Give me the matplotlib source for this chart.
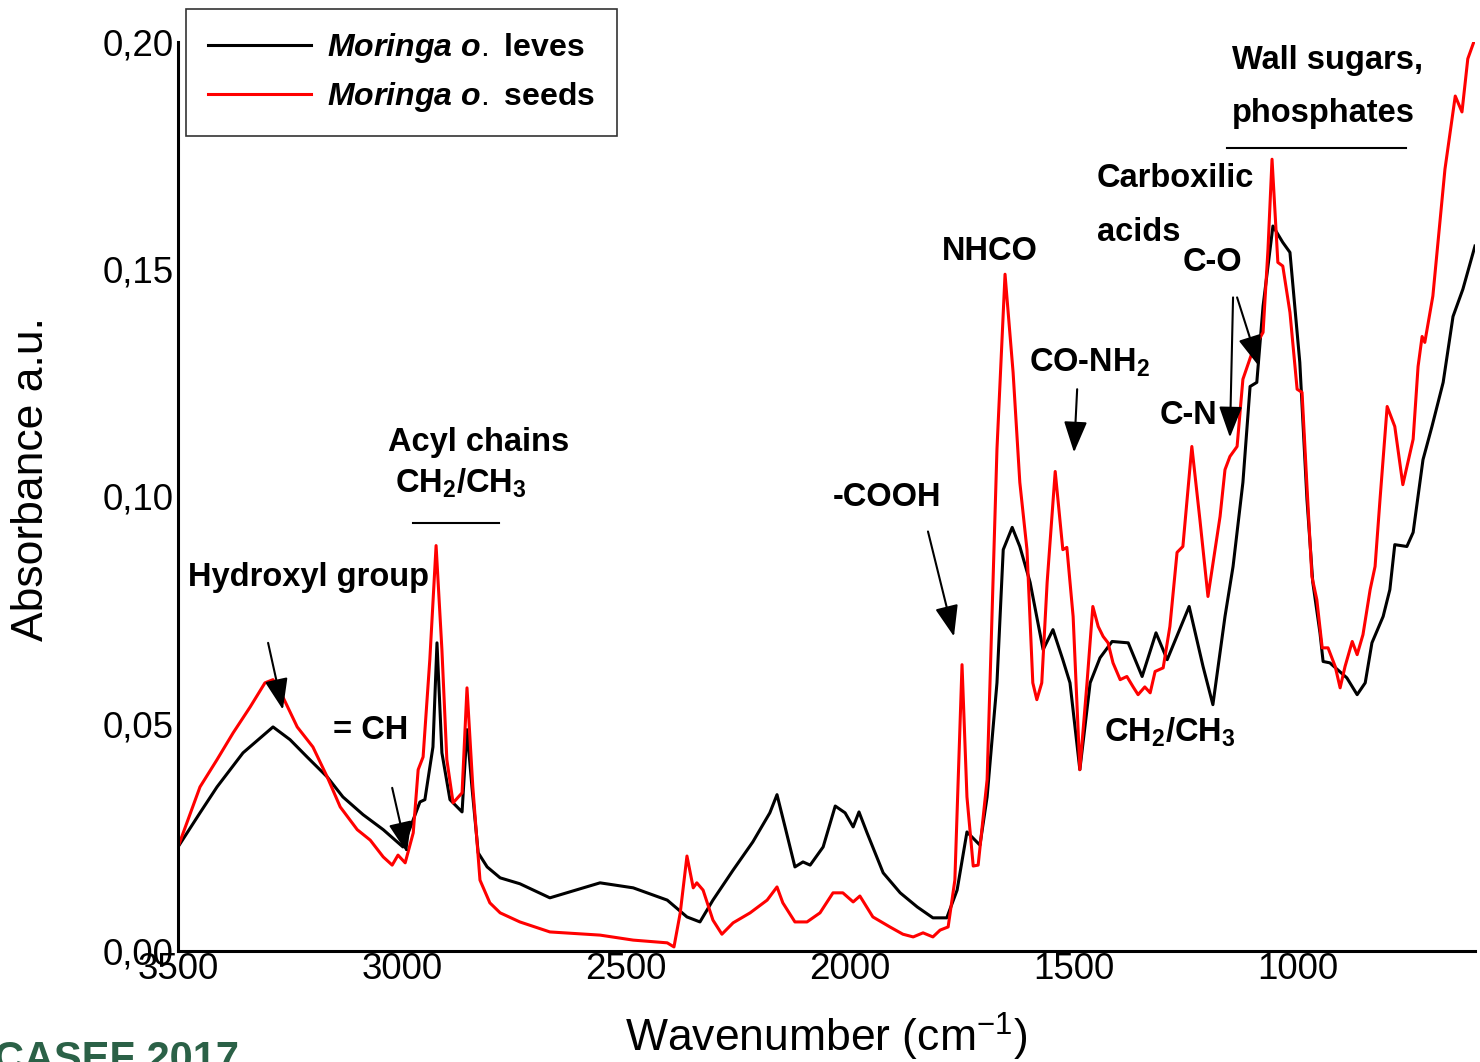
import matplotlib
matplotlib.use('Agg')
import matplotlib.pyplot as plt
from matplotlib.ticker import FuncFormatter

plt.rcParams['font.family'] = ['Liberation Sans', 'DejaVu Sans']
plt.rcParams['mathtext.fontset'] = 'custom'
plt.rcParams['mathtext.rm'] = 'Liberation Sans'
plt.rcParams['mathtext.it'] = 'Liberation Sans:italic:bold'
plt.rcParams['mathtext.bf'] = 'Liberation Sans:bold'

# Moringa o. leaves spectrum (wavenumber cm-1, absorbance)
LEAVES_WN = [3500, 3451, 3413, 3355, 3288, 3250, 3212, 3167, 3132, 3087, 3042, 2998,
             2960, 2949, 2931, 2922, 2911, 2893, 2866, 2855, 2844, 2830, 2810, 2781,
             2737, 2670, 2558, 2484, 2408, 2364, 2335, 2306, 2261, 2217, 2179, 2163,
             2145, 2123, 2105, 2089, 2060, 2033, 2011, 1993, 1980, 1962, 1926, 1888,
             1850, 1815, 1784, 1761, 1739, 1710, 1694, 1672, 1658, 1638, 1621, 1598,
             1569, 1547, 1525, 1509, 1487, 1464, 1442, 1415, 1379, 1348, 1317, 1292,
             1243, 1212, 1190, 1163, 1145, 1123, 1107, 1092, 1078, 1056, 1034, 1018,
             996, 980, 967, 951, 944, 929, 891, 868, 850, 835, 810, 795, 784, 757,
             743, 721, 701, 676, 654, 632, 605]
LEAVES_ABS = [0.0229, 0.0304, 0.0361, 0.0436, 0.0493, 0.0465, 0.0427, 0.0383, 0.0339,
              0.0300, 0.0267, 0.0229, 0.0328, 0.0333, 0.0449, 0.0678, 0.0436, 0.0333,
              0.0306, 0.0487, 0.0361, 0.0216, 0.0185, 0.0161, 0.0148, 0.0117, 0.0150,
              0.0139, 0.0112, 0.0075, 0.0064, 0.0112, 0.0178, 0.0240, 0.0304, 0.0344,
              0.0273, 0.0185, 0.0196, 0.0189, 0.0229, 0.0319, 0.0304, 0.0273, 0.0306,
              0.0260, 0.0172, 0.0128, 0.0097, 0.0073, 0.0073, 0.0134, 0.0262, 0.0233,
              0.0339, 0.0590, 0.0883, 0.0932, 0.0890, 0.0811, 0.0663, 0.0707, 0.0641,
              0.0590, 0.0399, 0.0590, 0.0645, 0.0681, 0.0678, 0.0604, 0.0700, 0.0641,
              0.0758, 0.0626, 0.0542, 0.0736, 0.0846, 0.1031, 0.1242, 0.1251, 0.1419,
              0.1595, 0.1559, 0.1537, 0.1295, 0.0993, 0.0811, 0.0700, 0.0637, 0.0634,
              0.0601, 0.0564, 0.0590, 0.0678, 0.0736, 0.0795, 0.0894, 0.0890, 0.0921,
              0.1081, 0.1154, 0.1251, 0.1396, 0.1456, 0.1551]

# Moringa o. seeds spectrum
SEEDS_WN = [3500, 3451, 3413, 3377, 3339, 3306, 3288, 3266, 3234, 3199, 3167, 3138,
            3100, 3071, 3042, 3022, 3009, 2993, 2975, 2964, 2953, 2938, 2924, 2911,
            2900, 2886, 2866, 2855, 2842, 2826, 2804, 2781, 2737, 2670, 2558, 2484,
            2408, 2393, 2379, 2364, 2350, 2342, 2328, 2306, 2286, 2261, 2223, 2185,
            2163, 2150, 2123, 2096, 2067, 2038, 2016, 1993, 1978, 1949, 1911, 1882,
            1859, 1837, 1815, 1799, 1781, 1766, 1750, 1739, 1725, 1714, 1694, 1672,
            1654, 1636, 1621, 1605, 1592, 1583, 1572, 1560, 1542, 1525, 1516, 1502,
            1487, 1471, 1458, 1446, 1435, 1424, 1413, 1397, 1382, 1368, 1357, 1342,
            1330, 1319, 1301, 1286, 1270, 1257, 1237, 1219, 1201, 1174, 1163, 1152,
            1136, 1123, 1100, 1078, 1067, 1058, 1045, 1034, 1018, 1002, 991, 980,
            969, 958, 946, 933, 917, 906, 895, 879, 868, 855, 839, 828, 817, 801,
            784, 766, 743, 732, 723, 717, 699, 672, 649, 634, 621, 605]
SEEDS_ABS = [0.0229, 0.0361, 0.0421, 0.0480, 0.0537, 0.0590, 0.0597, 0.0559, 0.0493,
             0.0449, 0.0383, 0.0317, 0.0267, 0.0244, 0.0207, 0.0189, 0.0211, 0.0194,
             0.0260, 0.0399, 0.0427, 0.0641, 0.0892, 0.0663, 0.0421, 0.0326, 0.0348,
             0.0579, 0.0361, 0.0156, 0.0106, 0.0084, 0.0064, 0.0042, 0.0035, 0.0024,
             0.0018, 0.0009, 0.0084, 0.0209, 0.0139, 0.0150, 0.0134, 0.0068, 0.0037,
             0.0062, 0.0084, 0.0112, 0.0141, 0.0106, 0.0064, 0.0064, 0.0084, 0.0128,
             0.0128, 0.0108, 0.0121, 0.0075, 0.0053, 0.0037, 0.0031, 0.0040, 0.0031,
             0.0046, 0.0053, 0.0156, 0.0630, 0.0339, 0.0187, 0.0189, 0.0377, 0.1104,
             0.1489, 0.1273, 0.1031, 0.0883, 0.0590, 0.0553, 0.0590, 0.0811, 0.1055,
             0.0883, 0.0888, 0.0736, 0.0399, 0.0590, 0.0758, 0.0714, 0.0692, 0.0678,
             0.0634, 0.0597, 0.0604, 0.0581, 0.0564, 0.0581, 0.0568, 0.0615, 0.0623,
             0.0714, 0.0877, 0.0890, 0.1110, 0.0949, 0.0780, 0.0956, 0.1059, 0.1088,
             0.1110, 0.1258, 0.1324, 0.1361, 0.1544, 0.1742, 0.1515, 0.1507, 0.1405,
             0.1236, 0.1229, 0.1022, 0.0824, 0.0773, 0.0667, 0.0667, 0.0626, 0.0579,
             0.0626, 0.0681, 0.0652, 0.0696, 0.0795, 0.0846, 0.0993, 0.1198, 0.1154,
             0.1026, 0.1126, 0.1286, 0.1352, 0.1339, 0.1441, 0.1720, 0.1881, 0.1846,
             0.1963, 0.2007]

X_TICKS = [3500, 3000, 2500, 2000, 1500, 1000]
Y_TICKS = [0.00, 0.05, 0.10, 0.15, 0.20]
LABELS = ['$\\mathit{Moringa\\ o.}$ leves', '$\\mathit{Moringa\\ o.}$ seeds']

# band labels: text, wavenumber, absorbance, alignment
BANDS = [
    ('Hydroxyl group', 3478, 0.0802, 'left'),
    ('= CH', 3154, 0.0467, 'left'),
    ('Acyl chains', 2828, 0.1099, 'center'),
    ('CH$_\\mathbf{2}$/CH$_\\mathbf{3}$', 2870, 0.1009, 'center'),
    ('-COOH', 1917, 0.0978, 'center'),
    ('NHCO', 1687, 0.1520, 'center'),
    ('CO-NH$_\\mathbf{2}$', 1600, 0.1275, 'left'),
    ('C-N', 1308, 0.1159, 'left'),
    ('Carboxilic', 1449, 0.1681, 'left'),
    ('acids', 1449, 0.1562, 'left'),
    ('C-O', 1257, 0.1496, 'left'),
    ('Wall sugars,', 1147, 0.1941, 'left'),
    ('phosphates', 1147, 0.1824, 'left'),
    ('CH$_\\mathbf{2}$/CH$_\\mathbf{3}$', 1433, 0.0460, 'left'),
]
# arrows: (tail wn, tail abs, head wn, head abs)
ARROWS = [
    (3299, 0.0678, 3266, 0.0531),
    (3022, 0.0359, 2989, 0.0216),
    (1826, 0.0923, 1768, 0.0692),
    (1493, 0.1236, 1500, 0.1097),
    (1145, 0.1438, 1152, 0.1130),
    (1136, 0.1438, 1087, 0.1286),
]
# horizontal bars under group labels: (wn start, wn end, absorbance)
BARS = [(2975, 2783, 0.0941), (1159, 759, 0.1767)]

fig = plt.figure(figsize=(14.8, 10.62), dpi=100)
ax = fig.add_axes([0.1203, 0.1045, 0.8763, 0.856])

l1, = ax.plot(LEAVES_WN, LEAVES_ABS, color='black', lw=2.2)
l2, = ax.plot(SEEDS_WN, SEEDS_ABS, color='#ff0000', lw=2.2)

ax.set_xlim(3500, 605)
ax.set_ylim(0, 0.2)
ax.set_xticks(X_TICKS)
ax.set_yticks(Y_TICKS)
ax.yaxis.set_major_formatter(FuncFormatter(lambda v, p: '{:.2f}'.format(v).replace('.', ',')))
ax.tick_params(length=0, labelsize=26.5)
ax.tick_params(axis='y', pad=3)
ax.tick_params(axis='x', pad=1)
for s in ['top', 'right']:
    ax.spines[s].set_visible(False)
for s in ['left', 'bottom']:
    ax.spines[s].set_linewidth(2.2)

ax.set_xlabel('Wavenumber (cm$^{-1}$)', fontsize=32)
ax.set_ylabel('Absorbance a.u.', fontsize=32)
ax.xaxis.set_label_coords(0.5, -0.066)
ax.yaxis.set_label_coords(-0.097, 0.519)

for txt, x, y, ha in BANDS:
    ax.text(x, y, txt, fontsize=23.5, fontweight='bold', ha=ha, va='baseline')
for x0, y0, x1, y1 in ARROWS:
    ax.annotate('', xy=(x1, y1), xytext=(x0, y0),
                arrowprops=dict(arrowstyle='-|>,head_length=0.8,head_width=0.3',
                                color='black', lw=1.5, shrinkA=0, shrinkB=0,
                                mutation_scale=24))
for x0, x1, y in BARS:
    ax.plot([x0, x1], [y, y], color='black', lw=1.5)

leg = ax.legend([l1, l2], LABELS, loc='upper left', bbox_to_anchor=(0.1257, 0.9915),
                bbox_transform=fig.transFigure, borderaxespad=0,
                prop={'weight': 'bold', 'size': 23}, frameon=True, fancybox=False,
                handlelength=3.2, handletextpad=0.5, borderpad=0.7, labelspacing=0.45)
leg.get_frame().set_edgecolor('black')
leg.get_frame().set_linewidth(1.2)

fig.text(-0.004, -0.0085, 'CASEF 2017', fontsize=30, fontweight='bold',
         color='#2b6147', ha='left', va='baseline')

fig.savefig('out.png', dpi=100)
